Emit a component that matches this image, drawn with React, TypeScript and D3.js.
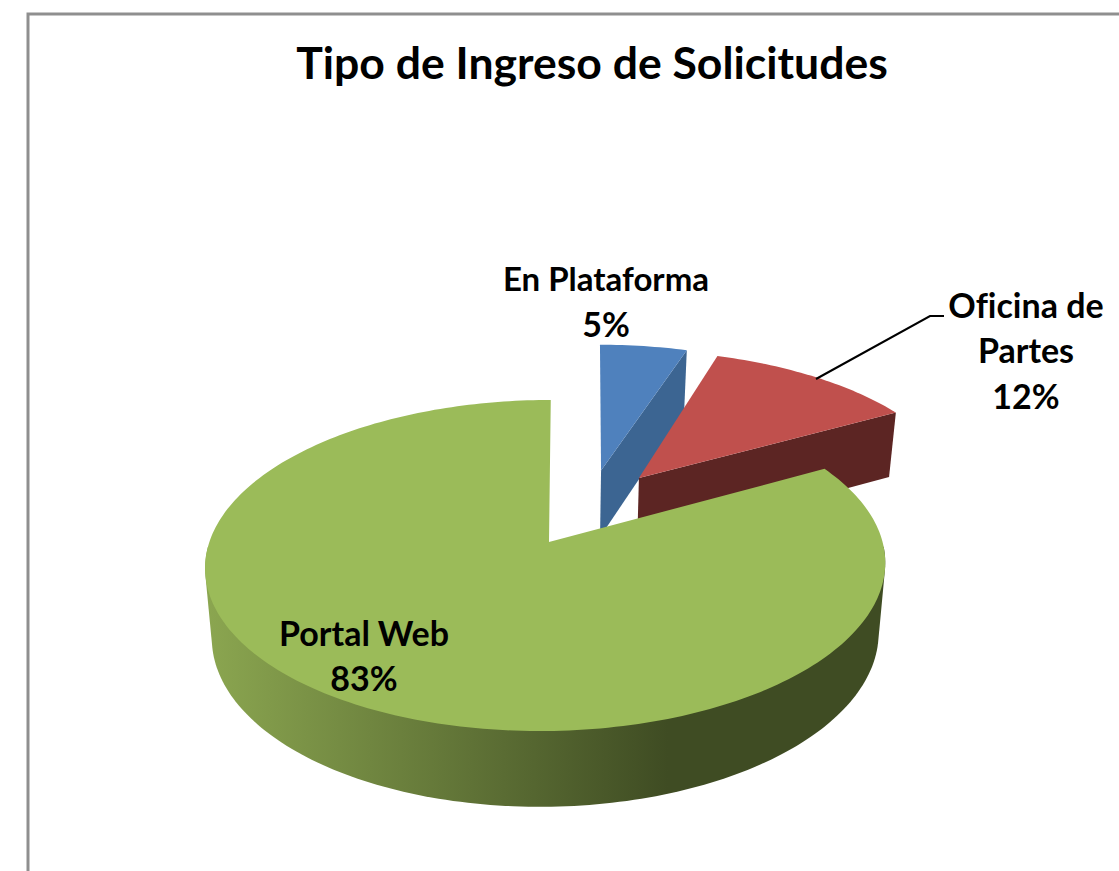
import React from "react";
import * as d3 from "d3";

const categories = ["En Plataforma", "Oficina de Partes", "Portal Web"];
const values = [5, 12, 83];
const title = "Tipo de Ingreso de Solicitudes";

const topColors = ["#4f81bd", "#c0504d", "#9bbb59"];
const wallColors = ["#3c6592", "#5c2523", "url(#greenWall)"];

// how far each slice is pulled out, in disc units (x right, y towards the viewer)
const pullX = [0.165, 0.283, 0];
const pullY = [-0.47, -0.418, 0];
// small corrections so the rims land where the picture has them
const rimShift = [0.018, 0, -0.009];
const rimSkew = [0, 0.006, 0.015];

// perspective of the pie, worked out from the picture
const k = -0.142;
const apexX = 549;
const topPlane = { y: 542, a: 162.2, b: 336.6 };
const bottomPlane = { y: 611, a: 168, b: 330 };

// only the front of the big slice shows a curved wall
const frontStart = 1.6;
const frontEnd = 2 * Math.PI - 1.6;

type Plane = typeof topPlane;

const project = (plane: Plane, u: number, v: number): [number, number] => {
  const d = 1 + k * v;
  return [apexX + (plane.b * u) / d, plane.y + (plane.a * v) / d];
};

const rimPoint = (plane: Plane, angle: number, i: number) =>
  project(
    plane,
    pullX[i] + rimShift[i] + Math.sin(angle) + rimSkew[i] * Math.cos(angle),
    pullY[i] - Math.cos(angle)
  );

const apexPoint = (plane: Plane, i: number) => project(plane, pullX[i], pullY[i]);

const line = d3.line();

const sweep = (start: number, end: number) => {
  const n = Math.max(2, Math.ceil((end - start) / 0.02));
  return d3.range(n + 1).map((j) => start + ((end - start) * j) / n);
};

const labelStyle: React.CSSProperties = {
  fontFamily: "Lato, sans-serif",
  fontWeight: 700,
  fontSize: 34,
  fill: "#000",
  fontVariantLigatures: "none",
};

export default function App() {
  const slices = d3.pie<number>().sort(null)(values);

  return (
    <svg
      width={1119}
      height={871}
      style={{ position: "absolute", left: 0, top: 0, background: "#fff" }}
    >
      <defs>
        <linearGradient id="greenWall" gradientUnits="userSpaceOnUse" x1={206} x2={885} y1={0} y2={0}>
          <stop offset="0" stopColor="#8ba650" />
          <stop offset="0.68" stopColor="#3f4c23" />
          <stop offset="1" stopColor="#3f4c23" />
        </linearGradient>
      </defs>

      <path d="M28,871V14H1119" fill="none" stroke="#8f8f8f" strokeWidth={3} />

      <text x={592} y={79} textAnchor="middle" style={{ ...labelStyle, fontSize: 44.5 }}>
        {title}
      </text>

      {slices.map((s, i) => {
        const angles = sweep(s.startAngle, s.endAngle);
        const topRim = angles.map((a) => rimPoint(topPlane, a, i));
        const bottomRim = angles.map((a) => rimPoint(bottomPlane, a, i));
        const surface = [apexPoint(topPlane, i), ...topRim];
        const endWall = [
          apexPoint(topPlane, i),
          topRim[topRim.length - 1],
          bottomRim[bottomRim.length - 1],
          apexPoint(bottomPlane, i),
        ];
        const hasFront = s.endAngle > frontStart;
        const front = sweep(Math.max(s.startAngle, frontStart), Math.min(s.endAngle, frontEnd));
        // the hull closes the silhouette between the two rims at the far left and right
        const frontWall = d3.polygonHull([
          ...front.map((a) => rimPoint(topPlane, a, i)),
          ...front.map((a) => rimPoint(bottomPlane, a, i)),
        ]);
        return (
          <g key={categories[i]}>
            <path d={line(hasFront && frontWall ? frontWall : endWall) + "Z"} fill={wallColors[i]} />
            <path d={line(surface) + "Z"} fill={topColors[i]} />
          </g>
        );
      })}

      <polyline points="816,379 930,316 944,316" fill="none" stroke="#000" strokeWidth={2} />

      <g textAnchor="middle" style={labelStyle}>
        <text x={606} y={291} style={{ fontSize: 33 }}>En Plataforma</text>
        <text x={606} y={337}>{values[0]}%</text>
        <text x={1026} y={318}>Oficina de</text>
        <text x={1026} y={363}>Partes</text>
        <text x={1026} y={409}>{values[1]}%</text>
        <text x={364} y={646}>Portal Web</text>
        <text x={364} y={691}>{values[2]}%</text>
      </g>
    </svg>
  );
}
